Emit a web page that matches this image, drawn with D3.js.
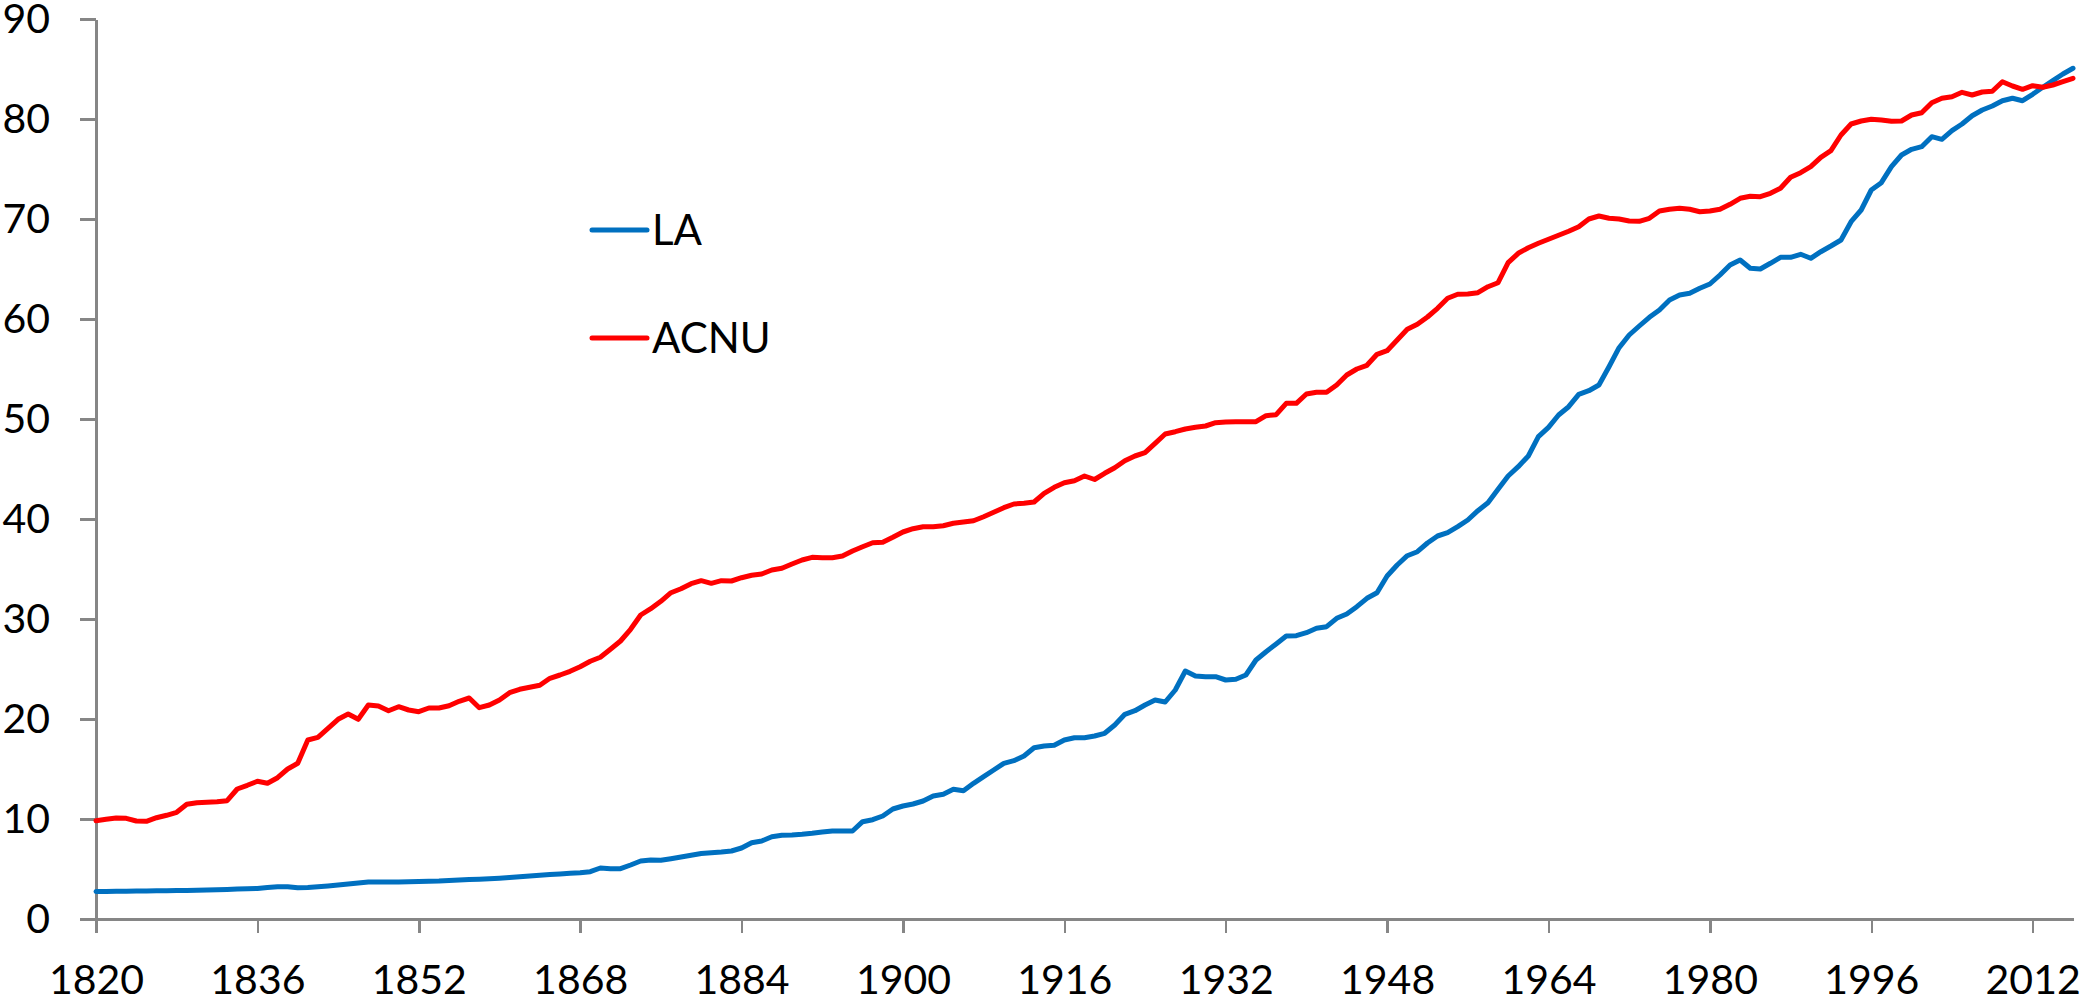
<!DOCTYPE html>
<meta charset="utf-8">
<style>
body { margin: 0; background: #fff; }
.axis path, .axis line { stroke: #868686; stroke-width: 2.5px; shape-rendering: crispEdges; }
.axis text { font-family: Lato, "Open Sans", sans-serif; font-size: 41px; fill: #000; }
.series { fill: none; stroke-width: 5px; stroke-linejoin: round; stroke-linecap: round; }
.legend text { font-family: Lato, "Open Sans", sans-serif; font-size: 42px; fill: #000; }
</style>
<body>
<svg width="2081" height="1005"></svg>
<script src="https://cdnjs.cloudflare.com/ajax/libs/d3/7.8.5/d3.min.js"></script>
<script>

// years 1820..2016, one value per year
var years = d3.range(1820, 2017);

var la = [
  2.75,2.76,2.77,2.78,2.79,2.8,2.82,2.83,2.85,2.86,2.88,2.9,2.92,2.95,3.0,3.02,3.05,3.15,3.22,3.22,
  3.12,3.15,3.22,3.3,3.4,3.5,3.6,3.7,3.7,3.7,3.71,3.72,3.75,3.78,
  3.8,3.85,3.9,3.94,3.98,4.02,4.07,4.14,4.22,4.3,4.37,4.44,4.5,4.57,4.63,4.73,5.1,5.03,5.03,5.4,
  5.8,5.9,5.87,6.03,6.2,6.37,6.55,6.63,6.7,6.8,7.1,7.63,7.8,
  8.23,8.37,8.4,8.47,8.57,8.7,8.8,8.8,8.8,9.73,9.93,10.3,11.0,11.3,11.5,11.8,12.3,12.47,12.97,12.83,
  13.57,14.23,14.9,15.57,15.83,16.3,17.13,17.3,17.37,17.9,18.13,18.13,18.3,
  18.57,19.4,20.47,20.83,21.4,21.9,21.7,22.9,24.8,24.3,24.23,24.23,23.9,23.97,24.4,25.9,26.73,27.5,
  28.3,28.33,28.63,29.07,29.23,30.07,30.5,31.23,32.07,32.63,34.3,35.4,36.33,36.73,37.6,
  38.3,38.63,39.23,39.9,40.83,41.63,42.97,44.3,45.23,46.3,48.23,49.17,50.4,51.23,52.47,52.83,53.4,
  55.23,57.13,58.4,59.3,60.17,60.9,61.9,62.4,62.57,63.07,63.5,64.4,65.4,65.9,65.07,
  65.0,65.57,66.17,66.17,66.47,66.07,66.73,67.3,67.9,69.73,70.9,72.9,73.63,75.23,76.4,76.97,77.23,
  78.23,77.97,78.83,79.5,80.33,80.9,81.3,81.83,82.07,81.83,82.47,83.17,83.83,84.5,85.07
];

var acnu = [
  9.83,9.97,10.1,10.07,9.8,9.77,10.13,10.37,10.67,11.47,11.63,11.67,11.73,11.83,13.0,13.37,13.77,13.57,
  14.13,15.0,15.57,17.9,18.17,19.07,19.97,20.5,19.97,21.4,21.3,20.83,21.23,20.9,20.73,21.1,
  21.1,21.33,21.77,22.1,21.13,21.4,21.9,22.63,22.97,23.17,23.37,24.07,24.4,24.77,25.23,25.77,26.17,
  26.97,27.8,28.97,30.4,31.03,31.77,32.63,33.03,33.53,33.83,33.57,33.83,33.8,34.13,34.37,34.5,
  34.9,35.07,35.5,35.9,36.17,36.13,36.13,36.3,36.8,37.23,37.63,37.67,38.17,38.7,39.03,39.23,39.23,
  39.33,39.57,39.7,39.83,40.23,40.67,41.13,41.5,41.57,41.7,42.57,43.17,43.63,43.83,44.3,43.95,
  44.57,45.13,45.83,46.3,46.63,47.57,48.5,48.73,49.0,49.17,49.3,49.63,49.7,49.73,49.73,49.73,50.33,
  50.43,51.57,51.57,52.5,52.67,52.67,53.4,54.4,55.0,55.37,56.47,56.83,57.9,58.97,59.47,60.2,
  61.07,62.07,62.47,62.5,62.63,63.23,63.63,65.63,66.57,67.13,67.57,67.97,68.37,68.77,69.23,70.0,
  70.3,70.07,70.0,69.8,69.77,70.07,70.8,70.97,71.07,70.97,70.73,70.8,70.97,71.47,72.07,72.27,
  72.23,72.57,73.07,74.17,74.63,75.23,76.17,76.83,78.4,79.5,79.8,79.97,79.9,79.77,79.8,80.4,80.63,
  81.63,82.07,82.23,82.67,82.4,82.7,82.77,83.73,83.3,82.97,83.33,83.17,83.4,83.73,84.07
];

var xTicks = d3.range(1820, 2017, 16);
var yTicks = d3.range(0, 91, 10);

var series = [
  {name: "LA", color: "#0070C0", values: la},
  {name: "ACNU", color: "#FF0000", values: acnu}
];

var svg = d3.select("svg");

var x = d3.scaleLinear().domain([1820, 2016]).range([96, 2073]);
var y = d3.scaleLinear().domain([0, 90]).range([919, 19]);

svg.append("g")
  .attr("class", "axis axis--y")
  .attr("transform", "translate(" + x(1820) + ",0)")
  .call(d3.axisLeft(y).tickValues(yTicks).tickSize(16).tickSizeOuter(0).tickPadding(30));

svg.append("g")
  .attr("class", "axis axis--x")
  .attr("transform", "translate(0," + y(0) + ")")
  .call(d3.axisBottom(x).tickValues(xTicks).tickFormat(d3.format("d"))
    .tickSize(14).tickSizeOuter(0).tickPadding(32));

var line = d3.line()
  .x(function(d, i) { return x(years[i]); })
  .y(function(d) { return y(d); });

svg.selectAll(".series").data(series)
  .enter()
  .append("path")
  .attr("class", "series")
  .attr("stroke", function(d) { return d.color; })
  .attr("d", function(d) { return line(d.values); });

var legend = svg.append("g").attr("class", "legend");
var lg = legend.selectAll("g").data(series).enter().append("g")
  .attr("transform", function(d, i) { return "translate(592," + (230 + i * 108) + ")"; });

lg.append("line")
  .attr("x1", 0).attr("x2", 55)
  .attr("stroke", function(d) { return d.color; })
  .attr("stroke-width", 5)
  .attr("stroke-linecap", "round");

lg.append("text")
  .attr("x", 60)
  .attr("y", 15)
  .text(function(d) { return d.name; });

</script>
</body>
